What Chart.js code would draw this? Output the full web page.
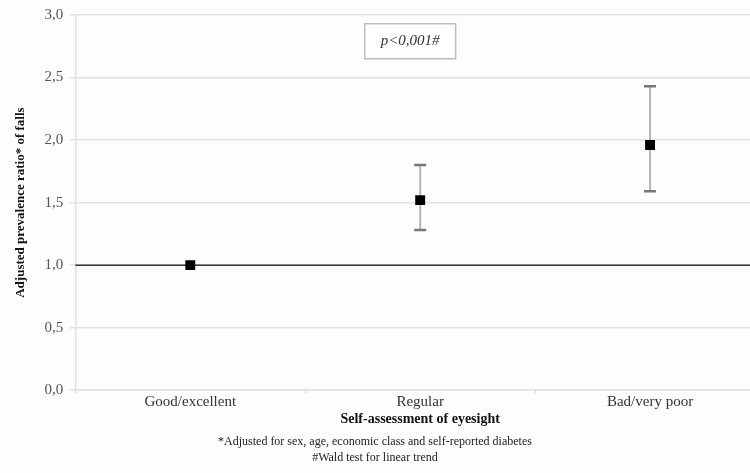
<!DOCTYPE html>
<html>
<head>
<meta charset="utf-8">
<script src="https://cdn.jsdelivr.net/npm/chart.js@4"></script>
<style>
html,body{margin:0;padding:0;background:#fdfdfd;overflow:hidden;width:750px;height:473px;}
#wrap{position:absolute;left:0;top:0;width:772px;height:473px;}
.note{position:absolute;left:0;width:750px;text-align:center;font-family:"Liberation Serif",serif;font-size:12px;color:#222;white-space:nowrap;}
</style>
</head>
<body>
<div id="wrap"><canvas id="c"></canvas></div>
<div class="note" style="top:434px;">*Adjusted for sex, age, economic class and self-reported diabetes</div>
<div class="note" style="top:450px;">#Wald test for linear trend</div>
<script>
const categories = ["Good/excellent", "Regular", "Bad/very poor"];
const ratio = [1.00, 1.52, 1.96];
const lowerCI = [null, 1.28, 1.59];
const upperCI = [null, 1.80, 2.43];
const yTicks = [0, 0.5, 1.0, 1.5, 2.0, 2.5, 3.0];
const pText = "p<0,001#";

const serif = '"Liberation Serif", "Times New Roman", serif';

const errorBars = {
  id: 'errorBars',
  beforeDatasetsDraw(chart) {
    const ctx = chart.ctx, xs = chart.scales.x, ys = chart.scales.y, area = chart.chartArea;
    ctx.save();
    const y1 = ys.getPixelForValue(1.0);
    ctx.strokeStyle = '#333';
    ctx.lineWidth = 1.5;
    ctx.beginPath(); ctx.moveTo(area.left, y1); ctx.lineTo(area.right, y1); ctx.stroke();
    for (let i = 0; i < categories.length; i++) {
      if (lowerCI[i] == null) continue;
      const x = xs.getPixelForValue(i);
      const yl = ys.getPixelForValue(lowerCI[i]);
      const yu = ys.getPixelForValue(upperCI[i]);
      ctx.strokeStyle = '#b5b5b5';
      ctx.lineWidth = 2;
      ctx.beginPath(); ctx.moveTo(x, yl); ctx.lineTo(x, yu); ctx.stroke();
      ctx.strokeStyle = '#777';
      ctx.lineWidth = 2.5;
      ctx.beginPath();
      ctx.moveTo(x - 6, yl); ctx.lineTo(x + 6, yl);
      ctx.moveTo(x - 6, yu); ctx.lineTo(x + 6, yu);
      ctx.stroke();
    }
    ctx.restore();
  },
  afterDatasetsDraw(chart) {
    const ctx = chart.ctx, xs = chart.scales.x, ys = chart.scales.y;
    ctx.save();
    ctx.font = 'italic 15px ' + serif;
    const cx = xs.getPixelForValue(1) - 10;
    const cy = ys.getPixelForValue(2.79);
    const w = ctx.measureText(pText).width + 32;
    const h = 35;
    ctx.fillStyle = '#ffffff';
    ctx.fillRect(cx - w / 2, cy - h / 2, w, h);
    ctx.strokeStyle = '#bdbdbd';
    ctx.lineWidth = 1.5;
    ctx.strokeRect(cx - w / 2, cy - h / 2, w, h);
    ctx.fillStyle = '#333';
    ctx.textAlign = 'center';
    ctx.textBaseline = 'middle';
    ctx.fillText(pText, cx, cy);
    ctx.restore();
  }
};

new Chart(document.getElementById('c'), {
  type: 'line',
  data: {
    labels: categories,
    datasets: [{
      data: ratio,
      showLine: false,
      pointStyle: 'rect',
      pointRadius: 7,
      pointHoverRadius: 7,
      pointBackgroundColor: '#000',
      pointBorderColor: '#000',
      borderWidth: 0
    }]
  },
  options: {
    responsive: true,
    maintainAspectRatio: false,
    animation: false,
    events: [],
    layout: { padding: { top: 15, left: 13, right: 5, bottom: 45 } },
    plugins: { legend: { display: false }, tooltip: { enabled: false } },
    scales: {
      x: {
        type: 'category',
        offset: true,
        grid: { display: true, offset: true, drawOnChartArea: false, color: '#ccc', tickLength: 3 },
        border: { color: '#e0e0e0', width: 1.5 },
        ticks: { color: '#333', font: { family: serif, size: 15 }, padding: 0 },
        title: { display: true, text: 'Self-assessment of eyesight', color: '#111', font: { family: serif, size: 14, weight: 'bold' }, padding: { top: 0, bottom: 0 } }
      },
      y: {
        min: 0, max: 3,
        afterBuildTicks(axis) { axis.ticks = yTicks.map(v => ({ value: v })); },
        grid: { color: '#e3e3e3', lineWidth: 1.5, tickLength: 6 },
        border: { color: '#e0e0e0', width: 1.5 },
        ticks: { color: '#555', font: { family: serif, size: 15 }, padding: 6,
          callback: v => v.toFixed(1).replace('.', ',') },
        title: { display: true, text: 'Adjusted prevalence ratio* of falls', color: '#111', font: { family: serif, size: 13, weight: 'bold' }, padding: { top: 0, bottom: 10 } }
      }
    }
  },
  plugins: [errorBars]
});
</script>
</body>
</html>
